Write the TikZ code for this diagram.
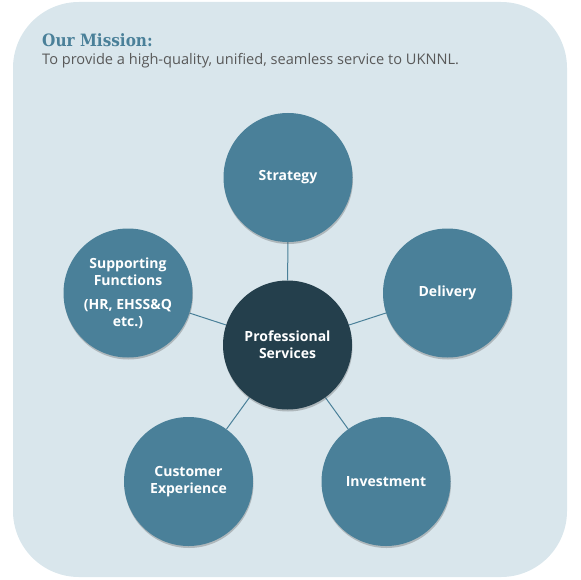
\documentclass[tikz,border=0pt]{standalone}
\usepackage{fontspec}
\setmainfont{Open Sans}
\newfontfamily\slabfont{DejaVu Serif Condensed}
\usetikzlibrary{shadows,backgrounds}

\definecolor{panelblue}{HTML}{D9E6EC}
\definecolor{petalblue}{HTML}{4A8099}
\definecolor{hubblue}{HTML}{243F4C}
\definecolor{textgrey}{HTML}{595959}

\tikzset{
  petal/.style={circle, fill=petalblue, minimum size=129pt, inner sep=0pt, align=center,
    text=white, font=\fontsize{14}{17}\selectfont\bfseries,
    drop shadow={shadow xshift=0.5pt, shadow yshift=-2pt, opacity=0.3, fill=black!70}},
  hub/.style={petal, fill=hubblue},
  spoke/.style={draw=petalblue, line width=1pt}
}

\begin{document}
\begin{tikzpicture}[x=1pt, y=-1pt]
  \useasboundingbox (0,0) rectangle (580,580);

  \node[anchor=base west, inner sep=0pt, text=petalblue, font=\slabfont\fontsize{17}{20}\selectfont\bfseries] (title) at (42,47) {Our Mission:};
  \node[anchor=base west, inner sep=0pt, text=textgrey, font=\fontsize{14.6}{17}\selectfont] (mission) at (42,65) {To provide a high-quality, unified, seamless service to UKNNL.};

  \node[hub] (services) at (287.5,345) {Professional\\Services};
  \node[petal] (strategy) at (288,177.5) {Strategy};
  \node[petal] (delivery) at (447.5,293) {Delivery};
  \node[petal] (investment) at (386,481.5) {Investment};
  \node[petal] (customer) at (188.5,481.5) {Customer\\Experience};
  \node[petal] (support) at (128,293) {Supporting\\Functions\\[7pt](HR, EHSS\&Q\\etc.)};

  \begin{pgfonlayer}{background}
    \fill[panelblue, rounded corners=66pt] (13,2) rectangle (567,577);
    \foreach \n in {strategy, delivery, investment, customer, support}
      \draw[spoke] (services) -- (\n);
  \end{pgfonlayer}
\end{tikzpicture}
\end{document}
